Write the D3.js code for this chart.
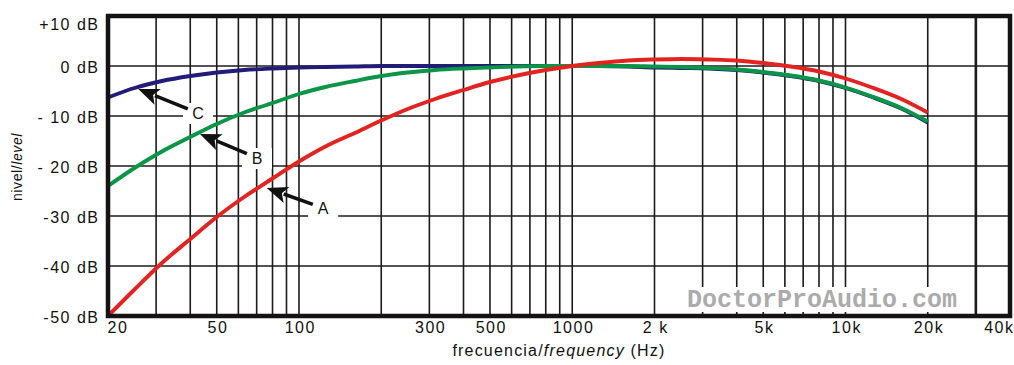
<!DOCTYPE html>
<html>
<head>
<meta charset="utf-8">
<script src="https://cdn.jsdelivr.net/npm/d3@7"></script>
<style>
  html, body { margin: 0; padding: 0; background: #fff; }
  svg { display: block; }
  text { font-family: "Liberation Sans", Arial, sans-serif; fill: #111; }
</style>
</head>
<body>
<svg id="chart" width="1014" height="365"></svg>
<script>
// ---- data ----
const frequencies = [20,25,31.5,40,50,63,80,100,125,160,200,250,315,400,500,630,800,1000,1250,1600,2000,2500,3150,4000,5000,6300,8000,10000,12500,16000,20000];
const curveA = [-50,-44.7,-39.4,-34.6,-30.2,-26.2,-22.5,-19.1,-16.1,-13.4,-10.9,-8.6,-6.6,-4.8,-3.2,-1.9,-0.8,0,0.6,1.1,1.3,1.4,1.3,1.1,0.6,-0.1,-1.1,-2.5,-4.3,-6.6,-9.3];
const curveB = [-24.0,-20.4,-17.1,-14.2,-11.6,-9.3,-7.4,-5.6,-4.2,-3.0,-2.0,-1.3,-0.8,-0.5,-0.3,-0.1,0,0,0,0,-0.1,-0.2,-0.4,-0.7,-1.2,-1.9,-2.9,-4.3,-6.1,-8.4,-11.1];
const curveC = [-6.3,-4.4,-3.0,-2.0,-1.3,-0.8,-0.5,-0.3,-0.2,-0.1,0,0,0,0,0,0,0,0,0,-0.1,-0.3,-0.4,-0.5,-0.8,-1.3,-2.0,-3.0,-4.4,-6.2,-8.5,-11.3];
const seriesNames = ["C", "B", "A"];

const gridFrequencies = [30,40,50,60,70,80,90,100,200,300,400,500,600,700,800,900,1000,2000,3000,4000,5000,6000,7000,8000,9000,10000,20000,30000];
const gridLevels = [0,-10,-20,-30,-40];

const xTickValues = [20,50,100,300,500,1000,2000,5000,10000,20000,40000];
const xTickLabels = ["20","50","100","300","500","1000","2 k","5k","10k","20k","40k"];
const yTickValues = [10,0,-10,-20,-30,-40,-50];
const yTickLabels = ["+10 dB","0 dB","- 10 dB","- 20 dB","-30 dB","-40 dB","-50 dB"];

// annotation arrows: tip and label in data units (Hz, dB)
const annotTipFreq = [25.8, 43.4, 76.2];
const annotTipLevel = [-4.6, -13.6, -24.4];
const annotLabelFreq = [42.7, 70.2, 122.6];
const annotLabelLevel = [-9.4, -18.4, -28.4];

// ---- layout ----
const svg = d3.select("#chart");
const x = d3.scaleLog().domain([20, 40000]).range([108, 1010]);
const y = d3.scaleLinear().domain([-50, 10]).range([316, 16]);
const colors = { A: "#e3231f", B: "#0a9646", C: "#211c78" };
const seriesData = { A: curveA, B: curveB, C: curveC };

// grid
const grid = svg.append("g").attr("stroke", "#1c1a1a");
grid.selectAll("line.v").data(gridFrequencies).join("line")
  .attr("x1", d => x(d)).attr("x2", d => x(d))
  .attr("y1", y(10)).attr("y2", y(-50))
  .attr("stroke-width", d => d === 30000 ? 2.6 : 1.6);
grid.selectAll("line.h").data(gridLevels).join("line")
  .attr("x1", x(20)).attr("x2", x(40000))
  .attr("y1", d => y(d)).attr("y2", d => y(d))
  .attr("stroke-width", 1.6);

// watermark background (covers grid, leaves short ticks at bottom)
svg.append("rect").attr("x", 681).attr("y", 287).attr("width", 287).attr("height", 25).attr("fill", "#fff");
svg.append("text").attr("x", 687).attr("y", 307)
  .style("font-family", "'Liberation Mono', 'DejaVu Sans Mono', monospace")
  .style("font-weight", "bold").style("font-size", "25px").style("fill", "#ababab")
  .text("DoctorProAudio.com");

// label boxes for annotations
const annot = seriesNames.map((n, i) => {
  const tip = [x(annotTipFreq[i]), y(annotTipLevel[i])];
  const lab = [x(annotLabelFreq[i]), y(annotLabelLevel[i])];
  return { name: n, tip, lab };
});
svg.append("g").selectAll("rect").data(annot).join("rect")
  .attr("x", d => d.lab[0] - 15).attr("y", d => d.lab[1] - 10)
  .attr("width", 30).attr("height", 21).attr("fill", "#fff");

// curves
const line = d3.line().x(d => x(d[0])).y(d => y(d[1])).curve(d3.curveMonotoneX);
svg.append("g").selectAll("path").data(seriesNames).join("path")
  .attr("d", n => line(frequencies.map((f, i) => [f, seriesData[n][i]])))
  .attr("fill", "none").attr("stroke", n => colors[n]).attr("stroke-width", 3.9)
  .attr("stroke-linejoin", "round");

// arrows
const ag = svg.append("g");
annot.forEach(d => {
  const dx = d.tip[0] - d.lab[0], dy = d.tip[1] - d.lab[1];
  const len = Math.hypot(dx, dy), ux = dx / len, uy = dy / len;
  const tail = [d.lab[0] + ux * 11, d.lab[1] + uy * 11];
  const headLen = 21, headW = 8.5;
  const base = [d.tip[0] - ux * headLen, d.tip[1] - uy * headLen];
  ag.append("line").attr("x1", tail[0]).attr("y1", tail[1])
    .attr("x2", base[0] + ux * 3).attr("y2", base[1] + uy * 3)
    .attr("stroke", "#111").attr("stroke-width", 3.5);
  ag.append("path").attr("fill", "#111").attr("d",
    `M${d.tip[0]},${d.tip[1]} L${base[0] - uy * headW},${base[1] + ux * headW} L${base[0] + ux*5},${base[1] + uy*5} L${base[0] + uy * headW},${base[1] - ux * headW} Z`);
  ag.append("text").attr("x", d.lab[0]).attr("y", d.lab[1] + 6)
    .attr("text-anchor", "middle").style("font-size", "16px").text(d.name);
});

// frame
svg.append("rect").attr("x", x(20)).attr("y", y(10))
  .attr("width", x(40000) - x(20)).attr("height", y(-50) - y(10))
  .attr("fill", "none").attr("stroke", "#141212").attr("stroke-width", 4.5);

// axes
const xAxis = d3.axisBottom(x).tickValues(xTickValues)
  .tickFormat((d, i) => xTickLabels[i]).tickSize(0).tickPadding(0);
const gx = svg.append("g").attr("transform", `translate(0,${y(-50)})`).call(xAxis);
gx.select(".domain").remove();
gx.selectAll("text").attr("y", 17).attr("dy", 0)
  .style("font-size", "16px").style("letter-spacing", "1.5px").style("fill", "#111")
  .style("font-family", "'Liberation Sans', Arial, sans-serif")
  .attr("dx", "0.75px");
gx.selectAll(".tick").filter(d => d === 20).select("text").attr("text-anchor", "start").attr("dx", -1);
gx.selectAll(".tick").filter(d => d === 40000).select("text").attr("text-anchor", "end").attr("dx", 4);

const yAxis = d3.axisLeft(y).tickValues(yTickValues)
  .tickFormat((d, i) => yTickLabels[i]).tickSize(0).tickPadding(0);
const gy = svg.append("g").attr("transform", "translate(99.5,0)").call(yAxis);
gy.select(".domain").remove();
gy.selectAll("text").attr("x", 0).attr("dy", 0).attr("y", d => d === 10 ? 13 : 6.5)
  .style("font-size", "16px").style("letter-spacing", "1.5px").style("fill", "#111")
  .style("font-family", "'Liberation Sans', Arial, sans-serif");

// axis titles
const xt = svg.append("text").attr("x", 559).attr("y", 356).attr("text-anchor", "middle")
  .style("font-size", "16px").style("letter-spacing", "1.2px");
xt.append("tspan").text("frecuencia/");
xt.append("tspan").style("font-style", "italic").text("frequency");
xt.append("tspan").text(" (Hz)");

const yt = svg.append("text").attr("transform", "translate(22,167) rotate(-90)")
  .attr("text-anchor", "middle").style("font-size", "14px").style("letter-spacing", "0.6px");
yt.append("tspan").text("nivel/");
yt.append("tspan").style("font-style", "italic").text("level");
</script>
</body>
</html>
